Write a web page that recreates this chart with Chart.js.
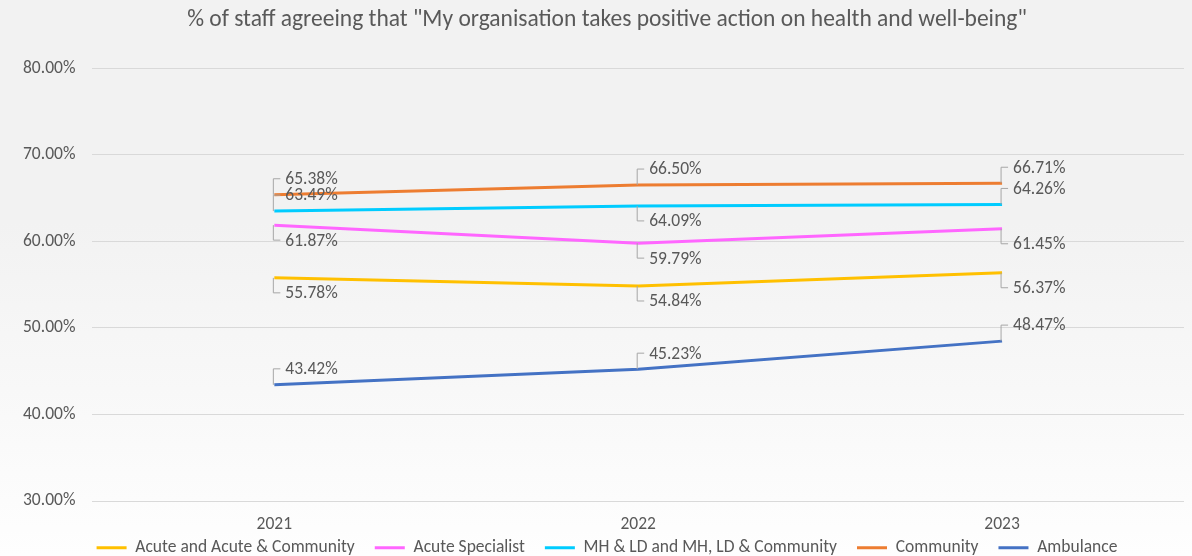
<!DOCTYPE html>
<html>
<head>
<meta charset="utf-8">
<script src="https://cdn.jsdelivr.net/npm/chart.js@4"></script>
<style>
  html, body { margin: 0; padding: 0; }
  #wrap {
    width: 1192px;
    height: 556px;
    background: linear-gradient(to bottom, #f2f2f2 0%, #f2f2f2 40%, #fefefe 100%);
  }
</style>
</head>
<body>
<div id="wrap"><canvas id="chart"></canvas></div>
<script>
const years = ['2021', '2022', '2023']
const acuteCommunity = [55.78, 54.84, 56.37]
const acuteSpecialist = [61.87, 59.79, 61.45]
const mhLdCommunity = [63.49, 64.09, 64.26]
const community = [65.38, 66.50, 66.71]
const ambulance = [43.42, 45.23, 48.47]
const yTicks = [30, 40, 50, 60, 70, 80]

const textColor = '#595959'
const fontFamily = "Carlito, Calibri, 'Liberation Sans', Arial, sans-serif"

function series (label, data, color, sides) {
  return {
    label: label,
    data: data,
    borderColor: color,
    backgroundColor: color,
    borderWidth: 3,
    pointRadius: 0,
    tension: 0,
    labelSides: sides
  }
}

// Excel-style data labels with a small elbow leader line
const leaderLabels = {
  id: 'leaderLabels',
  afterLayout (chart) {
    // keep the legend tight under the axis labels, and centre title/legend over the plot
    chart.legend.top = chart.height - 37
    chart.legend.left += 24
    chart.titleBlock.left += 24
  },
  afterDatasetsDraw (chart) {
    const ctx = chart.ctx
    ctx.save()
    ctx.font = '17.5px ' + fontFamily
    ctx.textBaseline = 'middle'
    ctx.textAlign = 'left'
    chart.data.datasets.forEach((ds, i) => {
      const meta = chart.getDatasetMeta(i)
      meta.data.forEach((pt, j) => {
        const up = ds.labelSides[j] === 'up'
        const ty = up ? pt.y - 16 : pt.y + 15
        ctx.strokeStyle = '#a6a6a6'
        ctx.lineWidth = 1
        ctx.beginPath()
        ctx.moveTo(pt.x - 1, pt.y)
        ctx.lineTo(pt.x - 1, ty)
        ctx.lineTo(pt.x + 6, ty)
        ctx.stroke()
        ctx.fillStyle = textColor
        ctx.fillText(ds.data[j].toFixed(2) + '%', pt.x + 11, ty + 1)
      })
    })
    ctx.restore()
  }
}

new Chart(document.getElementById('chart'), {
  type: 'line',
  data: {
    labels: years,
    datasets: [
      series('Acute and Acute & Community', acuteCommunity, '#FFC000', ['down', 'down', 'down']),
      series('Acute Specialist', acuteSpecialist, '#FF66FF', ['down', 'down', 'down']),
      series('MH & LD and MH, LD & Community', mhLdCommunity, '#00CCFF', ['up', 'down', 'up']),
      series('Community', community, '#ED7D31', ['up', 'up', 'up']),
      series('Ambulance', ambulance, '#4472C4', ['up', 'up', 'up'])
    ]
  },
  plugins: [leaderLabels],
  options: {
    responsive: true,
    maintainAspectRatio: false,
    animation: false,
    layout: { padding: { left: 6, right: 8, top: 0, bottom: 0 } },
    plugins: {
      title: {
        display: true,
        text: '% of staff agreeing that "My organisation takes positive action on health and well-being"',
        color: textColor,
        font: { family: fontFamily, size: 23.5, weight: 'normal' },
        padding: { top: 6, bottom: 34 }
      },
      legend: {
        position: 'bottom',
        maxHeight: 8,
        labels: {
          color: textColor,
          font: { family: fontFamily, size: 17.5 },
          boxWidth: 30,
          boxHeight: 3,
          padding: 20,
          generateLabels (chart) {
            return Chart.defaults.plugins.legend.labels.generateLabels(chart).map(item => {
              item.lineWidth = 0
              return item
            })
          }
        }
      },
      tooltip: { enabled: false }
    },
    scales: {
      x: {
        offset: true,
        border: { display: false },
        grid: { display: false, drawTicks: false },
        ticks: {
          color: textColor,
          font: { family: fontFamily, size: 17.5 },
          padding: 13
        }
      },
      y: {
        min: 30,
        max: 80,
        border: { display: false },
        grid: { color: '#d9d9d9', drawTicks: false },
        afterBuildTicks (axis) {
          axis.ticks = yTicks.map(v => ({ value: v }))
        },
        ticks: {
          color: textColor,
          font: { family: fontFamily, size: 17.5 },
          padding: 17,
          callback: v => v.toFixed(2) + '%'
        }
      }
    }
  }
})
</script>
</body>
</html>
